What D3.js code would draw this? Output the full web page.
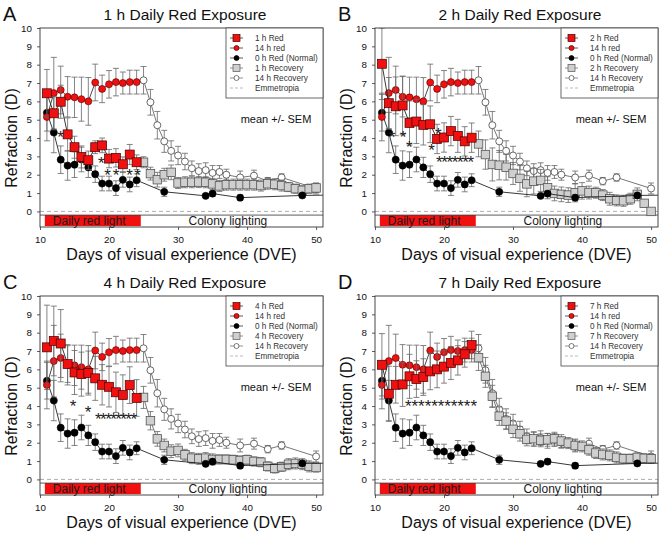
<!DOCTYPE html>
<html><head><meta charset="utf-8">
<script src="https://cdn.jsdelivr.net/npm/d3@7"></script>
<style>
body{margin:0;background:#fff}
svg{display:block}
text{font-family:"Liberation Sans",Arial,Helvetica,sans-serif}
</style>
</head><body>
<svg id="chart" width="663" height="537"></svg>
<script>
// ---------------- data ----------------
const redDays = [11,12,13,14,15,16,17,18,19,20,21,22,23,24];
const recDays = [25,26,27,28,29,30,31,32,33,34,35,36,37,38,39,40,41,42,43,44,45,46,47,48,49,50];
const normalDays = [11,12,13,14,15,16,17,18,19,20,21,22,23,24,28,34,35,39,48,52];
const rec14Days = [25,26,27,28,29,30,31,32,33,34,35,36,37,39,41,43,45,50];

const red14    = [5.15,6.45,6.62,6.25,6.22,6.12,6.0,7.03,6.68,6.93,7.05,7.0,7.05,7.05];
const red14Err = [1.3,1.95,1.3,1.1,1.1,1.2,1.3,1.0,0.75,0.75,0.75,0.6,0.65,0.65];
const normal    = [5.38,4.3,2.82,2.5,2.55,2.83,2.4,2.03,1.52,1.52,1.27,1.72,1.47,1.7,1.07,0.85,0.97,0.75,0.87,0.89];
const normalErr = [1.0,1.1,0.75,0.8,0.7,0.67,0.55,0.45,0.4,0.4,0.4,0.4,0.4,0.35,0.25,0.1,0.15,0.15,0.1,0];
const rec14    = [7.15,5.95,4.7,3.82,3.3,3.05,2.72,2.35,2.2,2.25,2.1,2.15,2.0,1.85,1.95,1.65,1.85,1.25];
const rec14Err = [0.75,0.7,0.75,0.6,0.55,0.5,0.45,0.4,0.4,0.4,0.4,0.35,0.3,0.35,0.3,0.2,0.2,0.3];

const red1    = [6.44,5.35,5.98,4.2,3.5,2.97,2.79,3.5,3.6,2.88,2.92,2.57,3.1,2.68];
const red1Err = [1.3,0.9,0.9,0.9,0.6,0.6,0.5,0.35,0.4,0.5,0.5,0.4,0.55,0.4];
const rec1    = [2.68,2.06,1.73,2.0,2.13,1.55,1.59,1.59,1.6,1.59,1.5,1.39,1.46,1.46,1.46,1.46,1.46,1.41,1.51,1.48,1.41,1.33,1.24,1.15,1.24,1.28];
const rec1Err = [0.3,0.35,0.4,0.35,0.4,0.3,0.3,0.3,0.3,0.3,0.3,0.3,0.3,0.3,0.3,0.3,0.3,0.3,0.3,0.3,0.3,0.25,0.25,0.25,0.25,0.25];

const red2    = [8.05,5.9,5.73,5.78,4.82,4.9,4.72,4.75,3.95,4.03,4.38,4.12,3.82,4.02];
const red2Err = [1.95,1.4,1.6,1.6,1.2,1.2,1.1,1.0,0.8,0.8,0.8,0.9,0.8,0.8];
const rec2    = [3.68,3.1,2.56,2.52,2.41,2.07,1.8,1.5,1.65,1.69,1.29,0.98,0.93,0.89,1.02,1.12,1.03,1.02,0.89,0.69,0.6,0.58,0.69,0.93,0.44,0.0];
const rec2Err = [0.7,0.8,0.9,0.8,0.7,0.6,0.7,0.7,0.7,0.6,0.6,0.4,0.4,0.4,0.5,0.45,0.35,0.3,0.3,0.35,0.3,0.3,0.3,0.35,0.2,0.1];

const red4    = [7.2,7.55,7.41,6.29,5.83,5.74,5.8,5.51,5.16,5.05,4.75,4.6,5.14,4.44];
const red4Err = [2.3,1.9,1.85,1.0,1.2,1.2,1.2,1.2,1.1,1.1,1.1,1.1,1.0,1.0];
const rec4    = [4.47,3.2,2.21,1.85,1.54,1.58,1.34,1.16,1.12,1.16,1.09,1.09,1.09,1.07,1.03,1.07,0.98,0.94,0.71,0.6,0.69,0.83,0.87,0.83,0.71,0.65];
const rec4Err = [0.6,0.5,0.4,0.35,0.35,0.35,0.3,0.3,0.3,0.3,0.3,0.25,0.25,0.25,0.25,0.25,0.25,0.25,0.25,0.25,0.25,0.3,0.3,0.3,0.3,0.25];

const red7    = [6.25,4.67,5.16,5.18,5.62,5.47,5.58,5.89,6.0,6.15,6.35,6.49,6.82,7.33];
const red7Err = [1.7,1.5,1.0,1.2,1.2,1.0,1.0,1.0,1.0,0.9,0.9,0.8,0.7,0.75];
const rec7    = [6.64,5.62,4.53,3.45,3.18,2.73,2.49,2.18,2.22,2.13,2.16,2.22,2.09,1.98,1.85,1.8,1.62,1.44,1.36,1.31,1.2,1.13,1.13,1.2,1.15,1.13];
const rec7Err = [0.7,0.6,0.6,0.5,0.45,0.45,0.4,0.35,0.35,0.35,0.35,0.35,0.35,0.3,0.3,0.3,0.3,0.3,0.3,0.3,0.3,0.25,0.25,0.25,0.25,0.25];

// significance marks: [first day, last day, refraction, text]
const starsA = [[12.5,13.5,4.27,"*"],[18.4,19.4,2.85,"*"],[19.3,21.5,2.17,"**"],[22.5,24.6,2.17,"**"]];
const starsB = [[12.0,14.55,4.28,"**"],[14.5,15.5,3.7,"*"],[17.7,18.7,3.53,"*"],[18.7,19.5,4.44,"*"],[18.84,24.35,2.92,"*******"]];
const starsC = [[14.3,15.3,4.18,"*"],[16.5,17.5,3.88,"*"],[17.97,24.06,3.5,"********"]];
const starsD = [[14.35,24.78,4.18,"***********"]];

const panelLetters = ["A","B","C","D"];
const panelHours = ["1","2","4","7"];
const yTicks = [0,1,2,3,4,5,6,7,8,9,10];
const xTicks = [10,20,30,40,50];
const lightBand = [10.7, 24.6];

// ---------------- layout ----------------
const panels = [
  {ox:0,   oy:0,   red:red1, redErr:red1Err, rec:rec1, recErr:rec1Err, stars:starsA},
  {ox:335, oy:0,   red:red2, redErr:red2Err, rec:rec2, recErr:rec2Err, stars:starsB},
  {ox:0,   oy:268, red:red4, redErr:red4Err, rec:rec4, recErr:rec4Err, stars:starsC},
  {ox:335, oy:268, red:red7, redErr:red7Err, rec:rec7, recErr:rec7Err, stars:starsD}
];
const PW = 283, PH = 199;
const RED = "#f01010";

const svg = d3.select("#chart");
const zip = (xs, ys, es) => xs.map((x,i)=>({x, y:ys[i], e: es ? es[i] : 0}));

panels.forEach((p, pi) => {
  const L = p.ox + 40, T = p.oy + 28;
  const x = d3.scaleLinear().domain([10, 51]).range([L, L + PW]);
  const y = d3.scaleLinear().domain([-0.85, 10]).range([T + PH, T]);
  const g = svg.append("g");
  const clipId = "clip" + pi;
  svg.append("clipPath").attr("id", clipId).append("rect")
    .attr("x", L).attr("y", T).attr("width", PW).attr("height", PH);
  const plot = g.append("g").attr("clip-path", `url(#${clipId})`);

  // lighting band
  plot.append("rect").attr("x", x(lightBand[0])).attr("width", x(lightBand[1]) - x(lightBand[0]))
    .attr("y", y(-0.2)).attr("height", y(-0.8) - y(-0.2)).attr("fill", RED);
  plot.append("line").attr("x1", L).attr("x2", L + PW).attr("y1", y(-0.2)).attr("y2", y(-0.2))
    .attr("stroke", "#333").attr("stroke-width", 0.8);
  g.append("text").attr("x", x(lightBand[0]) + 8).attr("y", y(-0.2) + 9.5)
    .attr("font-size", 12).attr("fill", "#1a1a1a").text("Daily red light");
  g.append("text").attr("x", (x(lightBand[1]) + x(51)) / 2 - 4).attr("y", y(-0.2) + 9.5)
    .attr("text-anchor", "middle").attr("font-size", 12).attr("fill", "#1a1a1a").text("Colony lighting");

  // emmetropia
  plot.append("line").attr("x1", L).attr("x2", L + PW).attr("y1", y(0)).attr("y2", y(0))
    .attr("stroke", "#999").attr("stroke-width", 0.8).attr("stroke-dasharray", "4,3");

  const line = d3.line().x(d => x(d.x)).y(d => y(d.y));

  function series(pts, linePts, opt) {
    const sg = plot.append("g");
    const eb = sg.selectAll(null).data(pts.filter(d => d.e > 0)).enter().append("g")
      .attr("stroke", opt.errColor || "#666").attr("stroke-width", 0.8);
    eb.append("line").attr("x1", d => x(d.x)).attr("x2", d => x(d.x))
      .attr("y1", d => y(d.y - d.e)).attr("y2", d => y(d.y + d.e));
    eb.append("line").attr("x1", d => x(d.x) - 3).attr("x2", d => x(d.x) + 3)
      .attr("y1", d => y(d.y + d.e)).attr("y2", d => y(d.y + d.e));
    eb.append("line").attr("x1", d => x(d.x) - 3).attr("x2", d => x(d.x) + 3)
      .attr("y1", d => y(d.y - d.e)).attr("y2", d => y(d.y - d.e));
    sg.append("path").datum(linePts).attr("d", line).attr("fill", "none")
      .attr("stroke", opt.lineColor).attr("stroke-width", 0.9);
    if (opt.shape === "square") {
      sg.selectAll(null).data(pts).enter().append("rect")
        .attr("x", d => x(d.x) - opt.size / 2).attr("y", d => y(d.y) - opt.size / 2)
        .attr("width", opt.size).attr("height", opt.size)
        .attr("fill", opt.fill).attr("stroke", opt.stroke).attr("stroke-width", opt.sw);
    } else {
      sg.selectAll(null).data(pts).enter().append("circle")
        .attr("cx", d => x(d.x)).attr("cy", d => y(d.y)).attr("r", opt.size / 2)
        .attr("fill", opt.fill).attr("stroke", opt.stroke).attr("stroke-width", opt.sw);
    }
  }

  const red14Pts = zip(redDays, red14, red14Err);
  const rec14Pts = zip(rec14Days, rec14, rec14Err);
  const redPts = zip(redDays, p.red, p.redErr);
  const recPts = zip(recDays, p.rec, p.recErr);
  const normPts = zip(normalDays, normal, normalErr);

  series(rec14Pts, [red14Pts[red14Pts.length - 1]].concat(rec14Pts),
    {shape:"circle", size:7, fill:"#fff", stroke:"#444", sw:0.8, lineColor:"#666"});
  series(recPts, [redPts[redPts.length - 1]].concat(recPts),
    {shape:"square", size:8.5, fill:"#cfcfcf", stroke:"#555", sw:0.8, lineColor:"#666"});
  series(normPts, normPts,
    {shape:"circle", size:7.2, fill:"#000", stroke:"#000", sw:0.5, lineColor:"#222"});
  series(red14Pts, red14Pts,
    {shape:"circle", size:7, fill:RED, stroke:"#500", sw:0.6, lineColor:"#333"});
  series(redPts, redPts,
    {shape:"square", size:9, fill:RED, stroke:"#400", sw:0.7, lineColor:"#222"});

  // significance stars (runs of asterisks spread over their day span)
  g.selectAll(null).data(p.stars).enter().append("text")
    .attr("x", d => x(d[0])).attr("y", d => y(d[2]) + 9.7)
    .attr("font-size", 17).attr("fill", "#222")
    .attr("textLength", d => x(d[1]) - x(d[0]))
    .attr("lengthAdjust", "spacing")
    .text(d => d[3]);

  // frame
  g.append("rect").attr("x", L).attr("y", T).attr("width", PW).attr("height", PH)
    .attr("fill", "none").attr("stroke", "#333").attr("stroke-width", 0.9);

  // axes
  const ya = g.append("g").attr("transform", `translate(${L},0)`)
    .call(d3.axisLeft(y).tickValues(yTicks).tickSize(3).tickPadding(5).tickFormat(d3.format("d")));
  const xa = g.append("g").attr("transform", `translate(0,${T + PH})`)
    .call(d3.axisBottom(x).tickValues(xTicks).tickSize(3).tickPadding(6).tickFormat(d3.format("d")));
  [ya, xa].forEach(a => {
    a.select(".domain").remove();
    a.selectAll(".tick line").attr("stroke", "#333").attr("stroke-width", 0.8);
    a.selectAll(".tick text").attr("font-size", 9.8).attr("fill", "#111")
      .attr("font-family", '"Liberation Sans",Arial,sans-serif');
  });

  // legend
  const lx = L + 186, lw = PW - 186;
  const leg = g.append("g");
  leg.append("rect").attr("x", lx).attr("y", T).attr("width", lw).attr("height", 70)
    .attr("fill", "#fff").attr("stroke", "#444").attr("stroke-width", 0.8);
  const hrs = panelHours[pi];
  const legendItems = [
    {label: hrs + " h Red", shape:"square", size:7, fill:RED, stroke:"#400", lc:"#333"},
    {label: "14 h red", shape:"circle", size:5, fill:RED, stroke:"#500", lc:"#333"},
    {label: "0 h Red (Normal)", shape:"circle", size:5, fill:"#000", stroke:"#000", lc:"#333"},
    {label: hrs + " h Recovery", shape:"square", size:7, fill:"#cfcfcf", stroke:"#555", lc:"#777"},
    {label: "14 h Recovery", shape:"circle", size:5, fill:"#fff", stroke:"#444", lc:"#777"},
    {label: "Emmetropia", shape:"dash", lc:"#aaa"}
  ];
  legendItems.forEach((it, i) => {
    const ly = T + 10 + i * 10;
    const ln = leg.append("line").attr("x1", lx + 4).attr("x2", lx + 17).attr("y1", ly).attr("y2", ly)
      .attr("stroke", it.lc).attr("stroke-width", 0.8);
    if (it.shape === "dash") ln.attr("stroke-dasharray", "3,2");
    if (it.shape === "square") {
      leg.append("rect").attr("x", lx + 10.5 - it.size / 2).attr("y", ly - it.size / 2)
        .attr("width", it.size).attr("height", it.size).attr("fill", it.fill)
        .attr("stroke", it.stroke).attr("stroke-width", 0.7);
    } else if (it.shape === "circle") {
      leg.append("circle").attr("cx", lx + 10.5).attr("cy", ly).attr("r", it.size / 2)
        .attr("fill", it.fill).attr("stroke", it.stroke).attr("stroke-width", 0.7);
    }
    leg.append("text").attr("x", lx + 29).attr("y", ly).attr("dy", "0.35em")
      .attr("font-size", 8.2).attr("fill", "#333").text(it.label);
  });

  // texts
  g.append("text").attr("x", L + PW - 47).attr("y", p.oy + 123).attr("text-anchor", "middle")
    .attr("font-size", 11).attr("fill", "#111").text("mean +/- SEM");
  g.append("text").attr("x", L + 145).attr("y", p.oy + 20).attr("text-anchor", "middle")
    .attr("font-size", 15.5).attr("fill", "#111").text(hrs + " h Daily Red Exposure");
  g.append("text").attr("x", p.ox + 3).attr("y", p.oy + 21)
    .attr("font-size", 20).attr("fill", "#111").text(panelLetters[pi]);
  g.append("text").attr("transform", `translate(${p.ox + 16.5},${p.oy + 138}) rotate(-90)`)
    .attr("text-anchor", "middle").attr("font-size", 16).attr("fill", "#111").text("Refraction (D)");
  g.append("text").attr("x", L + PW / 2).attr("y", p.oy + 259.5).attr("text-anchor", "middle")
    .attr("font-size", 16).attr("fill", "#111").text("Days of visual experience (DVE)");
});
</script>
</body></html>
